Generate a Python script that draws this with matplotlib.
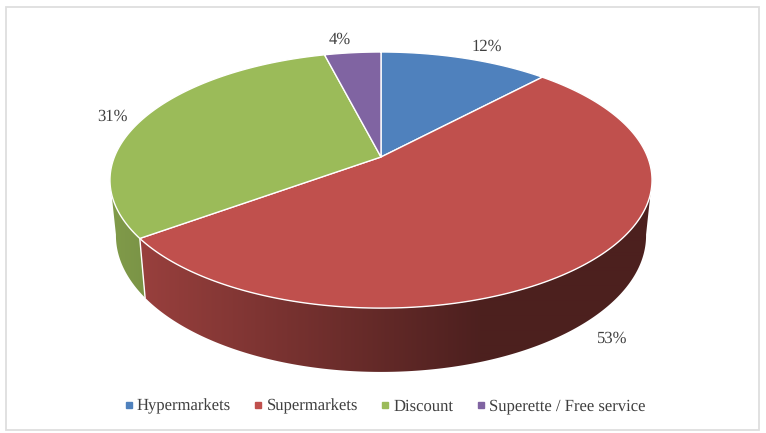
import numpy as np
import matplotlib
matplotlib.use("Agg")
import matplotlib.pyplot as plt
from matplotlib.patches import Polygon, Rectangle

categories = ["Hypermarkets", "Supermarkets", "Discount", "Superette / Free service"]
shares = [12, 53, 31, 4]
labels = ["12%", "53%", "31%", "4%"]
colors = ["#4F81BD", "#C0504D", "#9BBB59", "#8064A2"]

label_xy = [(487, 46.5), (611.5, 339), (112, 117), (339.5, 39.5)]
legend_box_x = [128.5, 258, 385, 481]
legend_text_x = [137, 266.5, 393.5, 489]

plt.rcParams['font.family'] = ['Liberation Serif', 'DejaVu Sans']
plt.rcParams['text.hinting'] = 'no_hinting'

# perspective of the disc, fitted on the picture (pixels)
CX, CY = 381, 157
A, B, K = 266.6, 123.9, -0.18
SX, SY, CY2 = 0.978, 1.065, 211


def rim(theta, bottom=False):
	# theta clockwise from 12 o'clock
	x = np.sin(theta)
	y = -np.cos(theta)
	den = 1 + K * y
	if bottom:
		return CX + SX * A * x / den, CY2 + SY * B * y / den
	return CX + A * x / den, CY + B * y / den


fig = plt.figure(figsize=(7.66, 4.33), dpi=100)
ax = fig.add_axes([0, 0, 1, 1])
ax.axis("off")

ax.add_patch(Rectangle((5.5, 7), 753, 422.5, fc="white", ec="#dedede", lw=1.3))

edges = np.cumsum([0] + shares) / sum(shares) * 2 * np.pi

# side wall, only the part facing us (between the two widest points of the rim)
for i, c in enumerate(colors):
	lo = max(edges[i], np.radians(100))
	hi = min(edges[i + 1], np.radians(260))
	if hi <= lo:
		continue
	t = np.linspace(lo, hi, 300)
	x1, y1 = rim(t)
	x2, y2 = rim(t[::-1], bottom=True)
	poly = Polygon(np.column_stack([np.r_[x1, x2], np.r_[y1, y2]]), fc="none", ec="none", transform=ax.transData)
	ax.add_patch(poly)
	# gradient over x: darkens to the right, flat past x=480
	xs = np.arange(100, 660)
	f = 0.83 - 0.43 * np.clip((xs - 110) / 370, 0, 1)
	grad = np.outer(f, np.array(matplotlib.colors.to_rgb(c)))[np.newaxis, :, :]
	im = ax.imshow(grad, extent=(100, 660, 390, 150), aspect="auto", interpolation="bilinear", zorder=2)
	im.set_clip_path(poly)
	# white line where two slices meet on the wall
	if edges[i + 1] < np.radians(260):
		xa, ya = rim(edges[i + 1])
		xb, yb = rim(edges[i + 1], bottom=True)
		ax.plot([xa, xb], [ya, yb], color="white", lw=1, zorder=3)

# top faces
for i, c in enumerate(colors):
	t = np.linspace(edges[i], edges[i + 1], 200)
	x, y = rim(t)
	ax.add_patch(Polygon(np.column_stack([np.r_[CX, x], np.r_[CY, y]]), fc=c, ec="white", lw=1, joinstyle="round", zorder=4))

for lab, (x, y) in zip(labels, label_xy):
	ax.text(x, y, lab, ha="center", va="center", fontsize=12, color="#404040", zorder=5)

for name, c, bx, tx in zip(categories, colors, legend_box_x, legend_text_x):
	ax.plot([bx], [405], marker="s", ms=3.8, color=c, ls="none", zorder=5)
	ax.text(tx, 410.7, name, ha="left", va="baseline", fontsize=12, color="#404040", zorder=5)

ax.set_xlim(0, 766)
ax.set_ylim(433, 0)
fig.savefig("out.png", dpi=100)
